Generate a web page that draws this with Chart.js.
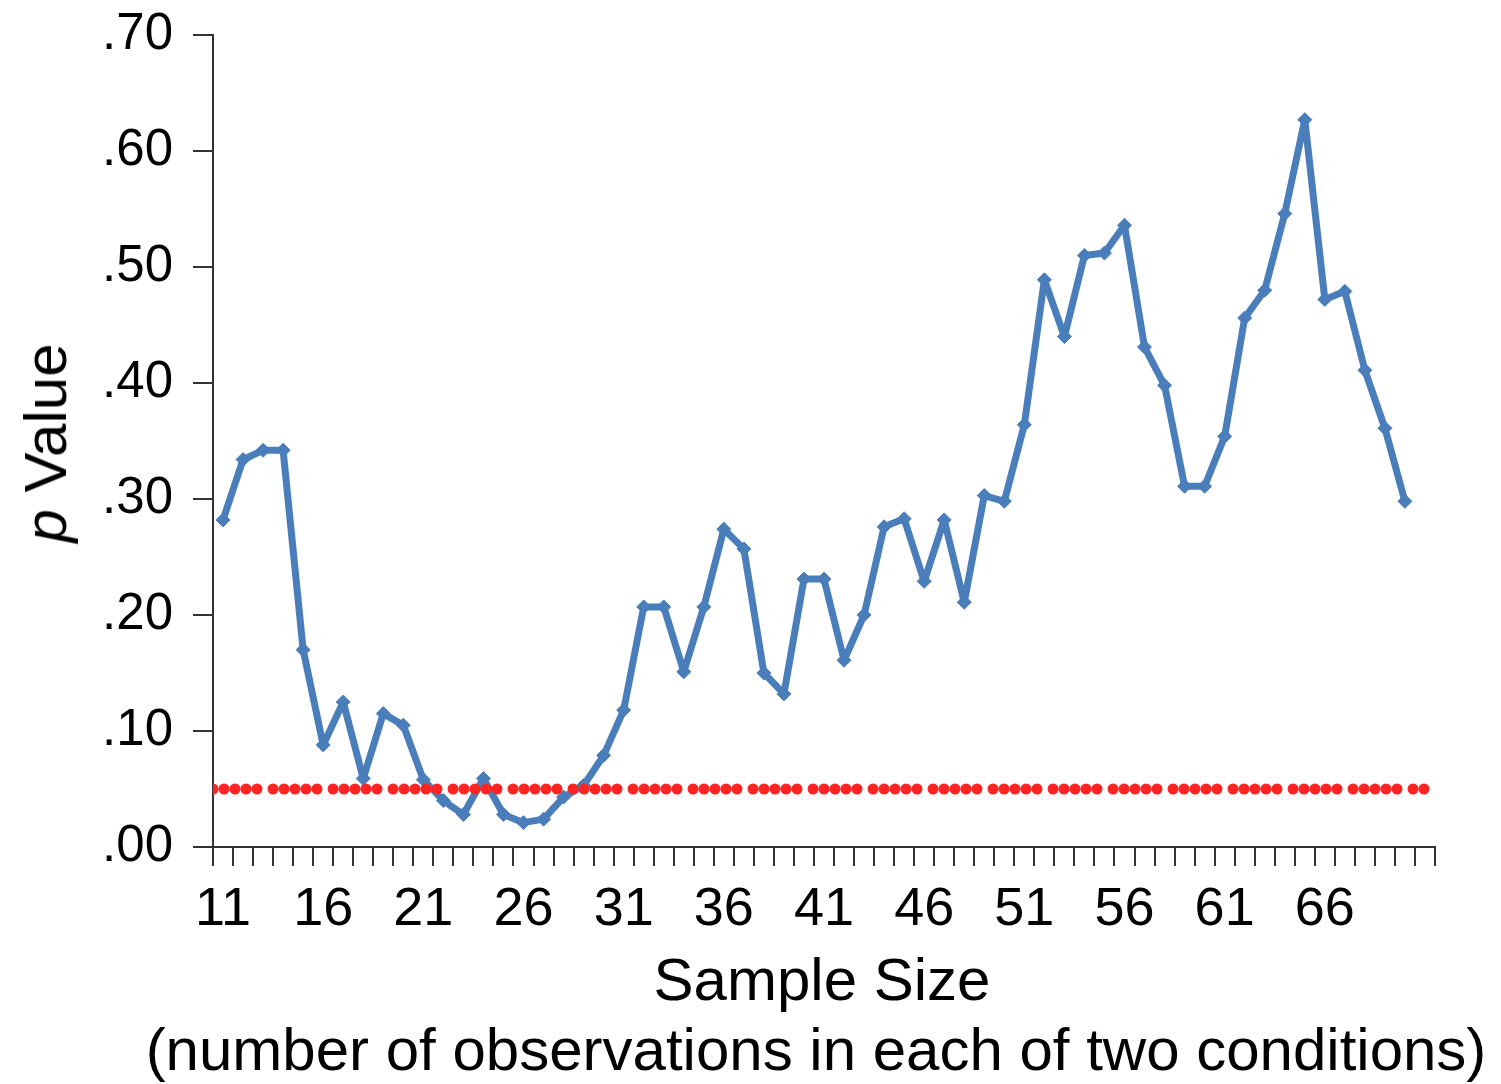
<!DOCTYPE html>
<html>
<head>
<meta charset="utf-8">
<script src="https://cdn.jsdelivr.net/npm/chart.js@4.4.1/dist/chart.umd.min.js"></script>
<style>
  html, body { margin: 0; padding: 0; background: #fff; }
  #wrap { position: relative; width: 1501px; height: 1084px; }
  .axis-title {
    position: absolute;
    font-family: "Liberation Sans", Arial, sans-serif;
    font-size: 60px;
    line-height: 1;
    color: #000;
    white-space: nowrap;
  }
  #ytitle { left: 46px; top: 443px; transform: translate(-50%, -50%) rotate(-90deg); }
  #xtitle1 { left: 822px; top: 980px; transform: translate(-50%, -50%); }
  #xtitle2 { left: 816px; top: 1050px; transform: translate(-50%, -50%); }
</style>
</head>
<body>
<div id="wrap">
  <canvas id="chart" width="1501" height="1084"></canvas>
  <div id="ytitle" class="axis-title"><i>p</i> Value</div>
  <div id="xtitle1" class="axis-title">Sample Size</div>
  <div id="xtitle2" class="axis-title">(number of observations in each of two conditions)</div>
</div>
<script>
// sample size per condition (x categories)
const sampleSizes = [11, 12, 13, 14, 15, 16, 17, 18, 19, 20,
  21, 22, 23, 24, 25, 26, 27, 28, 29, 30,
  31, 32, 33, 34, 35, 36, 37, 38, 39, 40,
  41, 42, 43, 44, 45, 46, 47, 48, 49, 50,
  51, 52, 53, 54, 55, 56, 57, 58, 59, 60,
  61, 62, 63, 64, 65, 66, 67, 68, 69, 70, 71];

// labels that are actually printed under the axis
const labeledSizes = [11, 16, 21, 26, 31, 36, 41, 46, 51, 56, 61, 66];

// p value after each added observation
const pValues = [0.282, 0.334, 0.342, 0.342, 0.170, 0.088, 0.125, 0.059, 0.115, 0.105,
  0.058, 0.040, 0.028, 0.059, 0.028, 0.021, 0.024, 0.043, 0.053, 0.079,
  0.118, 0.207, 0.207, 0.151, 0.207, 0.274, 0.257, 0.150, 0.132, 0.231,
  0.231, 0.161, 0.200, 0.276, 0.283, 0.229, 0.282, 0.211, 0.303, 0.298,
  0.364, 0.489, 0.440, 0.510, 0.512, 0.536, 0.431, 0.398, 0.311, 0.311,
  0.354, 0.456, 0.480, 0.546, 0.627, 0.472, 0.479, 0.411, 0.361, 0.298];

// the .05 criterion, drawn across the whole axis
const alphaSpan = [0, 61];
const alphaLevel = [0.05, 0.05];

const yTicks = [0, 0.1, 0.2, 0.3, 0.4, 0.5, 0.6, 0.7];

const axisColor = '#333333';
const fontFamily = '"Liberation Sans", Arial, sans-serif';

new Chart(document.getElementById('chart'), {
  type: 'line',
  data: {
    labels: sampleSizes,
    datasets: [
      {
        label: 'alpha',
        data: alphaSpan.map((x, k) => ({ x: x, y: alphaLevel[k] })),
        xAxisID: 'x2',
        borderColor: '#ff2424',
        borderWidth: 11,
        borderCapStyle: 'round',
        borderDash: [0, 11, 0, 11, 0, 11, 0, 11, 0, 16],
        pointRadius: 0,
        fill: false
      },
      {
        label: 'p',
        data: pValues,
        xAxisID: 'x',
        borderColor: '#4a7ebb',
        backgroundColor: '#4a7ebb',
        borderWidth: 7,
        borderJoinStyle: 'round',
        pointStyle: 'rectRot',
        pointRadius: 7,
        pointBorderWidth: 1,
        tension: 0,
        fill: false
      }
    ]
  },
  options: {
    responsive: false,
    animation: false,
    layout: { padding: { top: 35, right: 66, bottom: 0, left: 0 } },
    plugins: {
      legend: { display: false },
      tooltip: { enabled: false }
    },
    scales: {
      x: {
        type: 'category',
        offset: true,
        afterFit(scale) { scale.height = 237; },
        grid: {
          offset: true,
          drawOnChartArea: false,
          tickLength: 19,
          color: axisColor,
          lineWidth: 2
        },
        border: { color: axisColor, width: 2 },
        ticks: {
          autoSkip: false,
          maxRotation: 0,
          minRotation: 0,
          padding: 12,
          color: '#000',
          font: { family: fontFamily, size: 54 },
          callback(val, idx) {
            const n = sampleSizes[idx];
            return labeledSizes.includes(n) ? String(n) : '';
          }
        }
      },
      x2: {
        type: 'linear',
        display: false,
        min: 0,
        max: 61
      },
      y: {
        min: 0,
        max: 0.7,
        afterFit(scale) {
          scale.width = 213;
          scale.paddingTop = 0;
          scale.paddingBottom = 0;
        },
        afterBuildTicks(scale) { scale.ticks = yTicks.map(v => ({ value: v })); },
        grid: {
          drawOnChartArea: false,
          tickLength: 20,
          color: axisColor,
          lineWidth: 2
        },
        border: { color: axisColor, width: 2 },
        ticks: {
          padding: 20,
          color: '#000',
          font: { family: fontFamily, size: 51 },
          callback: v => v.toFixed(2).replace(/^0/, '')
        }
      }
    }
  }
});
</script>
</body>
</html>
